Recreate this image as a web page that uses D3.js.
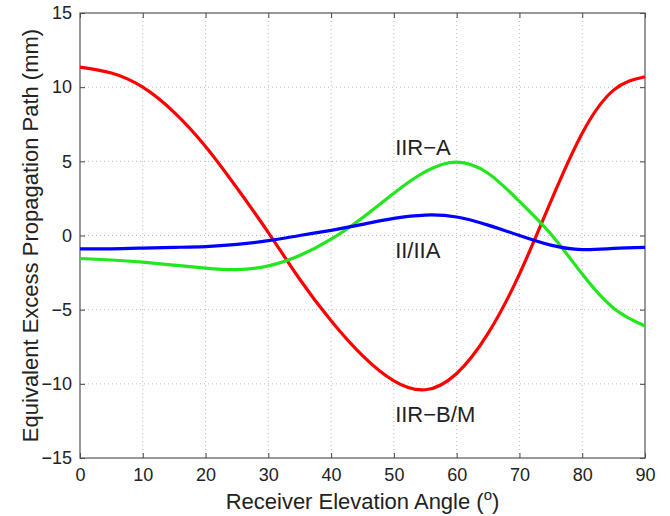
<!DOCTYPE html>
<html>
<head>
<meta charset="utf-8">
<script src="https://cdn.jsdelivr.net/npm/d3@7"></script>
<style>
  body { margin: 0; background: #fff; }
  text { font-family: Arial, "Liberation Sans", Helvetica, sans-serif; fill: #222; }
</style>
</head>
<body>
<div id="chart"></div>
<script>
// Dados
const angles = [0, 5, 10, 15, 20, 25, 30, 35, 40, 45, 50, 55, 60, 65, 70, 75, 80, 85, 90];
const iirBM = [11.35, 10.95, 10.0, 8.3, 6.0, 3.2, 0.2, -2.95, -5.75, -8.1, -9.8, -10.4, -9.3, -6.6, -2.6, 2.3, 6.9, 9.8, 10.7];
const iirA  = [-1.55, -1.65, -1.8, -2.0, -2.2, -2.3, -2.05, -1.35, -0.25, 1.2, 2.85, 4.3, 4.95, 4.2, 2.3, 0.1, -2.6, -4.9, -6.1];
const iiIIA = [-0.9, -0.9, -0.85, -0.8, -0.75, -0.6, -0.35, 0.0, 0.35, 0.75, 1.15, 1.38, 1.25, 0.7, 0.0, -0.65, -0.95, -0.87, -0.8];
const xTicks = [0, 10, 20, 30, 40, 50, 60, 70, 80, 90];
const yTicks = [-15, -10, -5, 0, 5, 10, 15];

const series = [
    { name: "IIR\u2212B/M", values: iirBM, color: "#ff0000", lx: 50.2, ly: -12.6 },
    { name: "IIR\u2212A", values: iirA, color: "#22e61e", lx: 50.2, ly: 5.4 },
    { name: "II/IIA", values: iiIIA, color: "#0000ff", lx: 50.2, ly: -1.55 }
];

const width = 670, height = 516;
const margin = { top: 13, right: 25, bottom: 58, left: 80 };

const svg = d3.select("#chart")
    .append("svg")
    .attr("width", width)
    .attr("height", height);

const x = d3.scaleLinear().domain([0, 90]).range([margin.left, width - margin.right]);
const y = d3.scaleLinear().domain([-15, 15]).range([height - margin.bottom, margin.top]);

// Grelha pontilhada
svg.append("g")
    .selectAll("line")
    .data(xTicks.slice(1, -1))
    .enter()
    .append("line")
    .attr("x1", d => x(d)).attr("x2", d => x(d))
    .attr("y1", y(15)).attr("y2", y(-15))
    .attr("stroke", "#bbb")
    .attr("stroke-dasharray", "1,3");

svg.append("g")
    .selectAll("line")
    .data(yTicks.slice(1, -1))
    .enter()
    .append("line")
    .attr("x1", x(0)).attr("x2", x(90))
    .attr("y1", d => y(d)).attr("y2", d => y(d))
    .attr("stroke", "#bbb")
    .attr("stroke-dasharray", "1,3");

// Eixos (ticks para dentro, nos quatro lados)
const axisStyle = g => {
    g.select(".domain").remove();
    g.selectAll(".tick line").attr("stroke", "#444");
    g.selectAll(".tick text").attr("font-size", "18px").attr("fill", "#222")
        .attr("font-family", "Arial, 'Liberation Sans', sans-serif");
};

svg.append("g")
    .attr("transform", `translate(0,${y(-15)})`)
    .call(d3.axisBottom(x).tickValues(xTicks).tickSizeInner(-5).tickPadding(10).tickFormat(d3.format("d")))
    .call(axisStyle);

svg.append("g")
    .attr("transform", `translate(0,${y(15)})`)
    .call(d3.axisTop(x).tickValues(xTicks).tickSizeInner(-5).tickFormat(""))
    .call(axisStyle);

svg.append("g")
    .attr("transform", `translate(${x(0)},0)`)
    .call(d3.axisLeft(y).tickValues(yTicks).tickSizeInner(-5).tickPadding(8).tickFormat(d => d < 0 ? "\u2212" + Math.abs(d) : d))
    .call(axisStyle);

svg.append("g")
    .attr("transform", `translate(${x(90)},0)`)
    .call(d3.axisRight(y).tickValues(yTicks).tickSizeInner(-5).tickFormat(""))
    .call(axisStyle);

// Caixa
svg.append("rect")
    .attr("x", x(0)).attr("y", y(15))
    .attr("width", x(90) - x(0)).attr("height", y(-15) - y(15))
    .attr("fill", "none")
    .attr("stroke", "#555")
    .attr("stroke-width", 1.2);

// Curvas
const line = d3.line()
    .x((d, i) => x(angles[i]))
    .y(d => y(d))
    .curve(d3.curveNatural);

svg.append("g")
    .selectAll("path")
    .data(series)
    .enter()
    .append("path")
    .attr("d", d => line(d.values))
    .attr("fill", "none")
    .attr("stroke", d => d.color)
    .attr("stroke-width", 3.2);

// Rótulos das séries
svg.append("g")
    .selectAll("text")
    .data(series)
    .enter()
    .append("text")
    .attr("x", d => x(d.lx))
    .attr("y", d => y(d.ly))
    .attr("font-size", "22px")
    .text(d => d.name);

// Títulos dos eixos
const xl = svg.append("text")
    .attr("x", (x(0) + x(90)) / 2)
    .attr("y", 509)
    .attr("text-anchor", "middle")
    .attr("font-size", "22px");
xl.append("tspan").text("Receiver Elevation Angle (");
xl.append("tspan").attr("dy", -9).attr("font-size", "15px").text("o");
xl.append("tspan").attr("dy", 9).text(")");

svg.append("text")
    .attr("transform", `translate(38,${(y(15) + y(-15)) / 2}) rotate(-90)`)
    .attr("text-anchor", "middle")
    .attr("font-size", "22px")
    .text("Equivalent Excess Propagation Path (mm)");
</script>
</body>
</html>
